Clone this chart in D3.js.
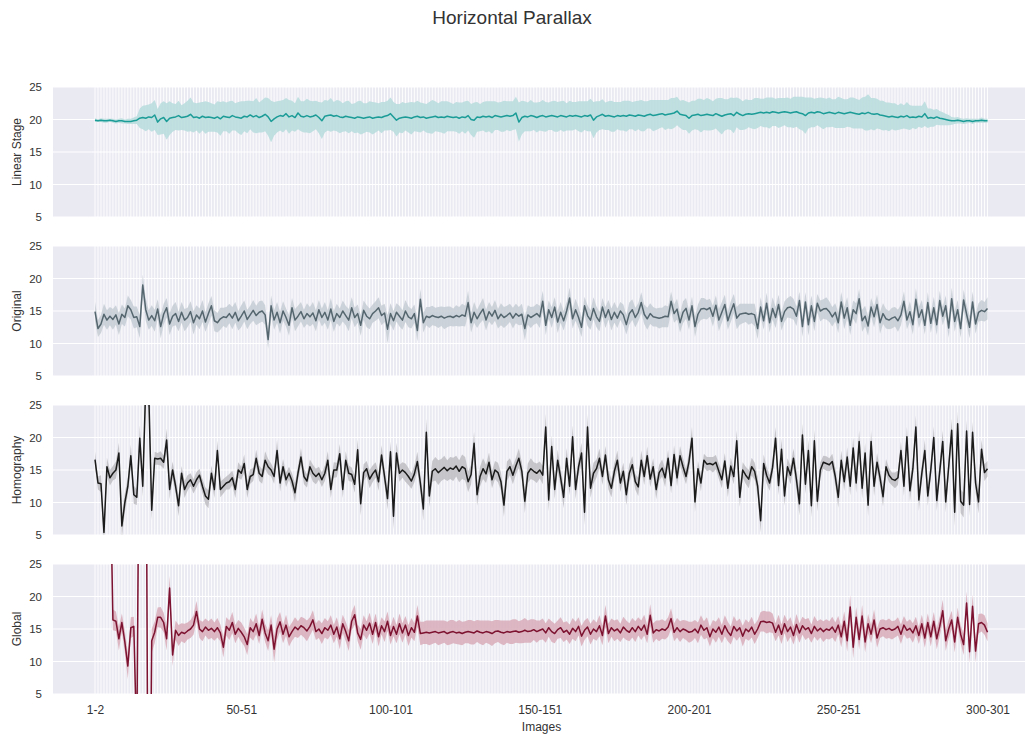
<!DOCTYPE html>
<html>
    <head>
        <meta charset="utf-8">
        <script type="text/javascript" src="https://cdn.jsdelivr.net/npm/d3@7/dist/d3.min.js"></script>
        <style>
            body { margin: 0; background: #fff; }
            text { font-family: "Liberation Sans", Arial, sans-serif; fill: #333; }
        </style>
    </head>
    <body>
        <svg></svg>

        <script>
            // image pairs "1-2" ... "300-301"
            var categories = d3.range(1, 301).map(function(i) { return i + "-" + (i + 1); });
            var tickLabels = ["1-2", "50-51", "100-101", "150-151", "200-201", "250-251", "300-301"];
            var yTicks = [5, 10, 15, 20, 25];
            var panelNames = ["Linear Stage", "Original", "Homography", "Global"];

            var linearStage = [
                19.9,19.8,19.9,19.8,19.8,19.9,19.8,19.7,19.8,19.8,19.7,19.7,19.7,19.8,19.9,20.2,20.3,20.2,20.4,20.3,
                20.7,19.6,20.1,20.3,19.7,20.2,20.3,20.4,20.6,20.3,20.4,20.5,20.8,20.3,20.4,20.2,20.5,20.3,20.4,20.3,
                20.2,20.4,20.1,20.5,20.4,20.3,20.6,20.4,20.3,20.2,20.5,20.4,20.7,20.4,20.6,20.3,20.5,20.8,20.4,19.7,
                20.1,20.4,20.6,20.5,20.9,20.4,20.6,20.3,21.0,20.5,20.4,20.6,20.4,20.5,20.7,20.3,19.8,20.5,20.6,20.7,
                20.5,20.6,20.4,20.3,20.5,20.4,20.3,20.2,20.4,20.3,20.2,20.3,20.4,20.2,20.3,20.4,20.3,20.5,20.6,20.9,
                20.4,19.9,20.2,20.3,20.4,20.3,20.2,20.4,20.5,20.3,20.4,20.2,20.3,20.4,20.5,20.3,20.4,20.3,20.5,20.4,
                20.3,20.4,20.2,20.4,20.3,20.6,20.0,19.9,20.4,20.3,20.5,20.4,20.5,20.3,20.6,20.5,20.4,20.5,20.6,20.5,
                20.6,21.0,19.6,20.3,20.5,20.4,20.6,20.5,20.3,20.5,20.6,20.4,20.5,20.6,20.5,20.4,20.6,20.5,20.4,20.6,
                20.5,20.6,20.5,20.4,20.6,20.5,20.7,19.9,20.4,20.6,20.8,20.5,20.6,20.5,20.4,20.6,20.5,20.6,20.5,20.7,
                20.6,20.5,20.7,20.6,20.5,20.7,20.8,20.6,20.7,20.8,20.9,20.7,20.8,20.9,21.0,21.3,20.8,20.7,20.6,20.2,
                20.6,20.7,20.8,20.6,20.7,20.8,20.7,20.6,20.9,20.7,20.5,20.7,20.8,20.9,20.6,21.1,20.8,20.6,20.8,20.9,
                20.8,20.9,21.0,21.1,21.0,21.1,21.0,21.2,21.1,21.0,21.1,21.2,21.1,21.0,21.1,21.2,21.0,20.9,20.6,21.0,
                21.1,21.0,21.2,21.1,20.9,21.0,21.1,21.0,20.9,21.1,21.0,20.9,21.0,21.1,21.0,20.9,20.8,21.0,20.9,21.1,
                20.9,20.8,20.9,20.7,20.6,20.5,20.4,20.5,20.4,20.3,20.5,20.4,20.6,20.3,20.4,20.3,20.5,20.4,20.9,20.2,
                20.3,20.2,20.4,20.2,20.1,20.0,19.9,19.8,19.8,19.9,19.8,19.7,19.8,19.8,19.7,19.8,19.8,19.9,19.8,19.8
            ];
            var linearStageCi = [
                0.3,0.2,0.3,0.3,0.3,0.2,0.3,0.3,0.3,0.4,0.3,0.4,0.4,0.5,0.6,1.5,1.8,2.0,1.9,2.2,
                2.3,2.0,2.4,2.5,2.8,2.6,2.2,2.0,2.3,1.9,2.1,2.4,2.6,2.3,2.1,2.4,2.2,2.5,2.3,2.2,
                2.1,2.4,2.6,2.3,2.2,2.5,2.3,2.1,2.4,2.6,2.3,2.5,2.2,2.4,2.7,2.3,2.5,2.6,2.9,3.2,
                2.6,2.4,2.3,2.5,2.4,2.6,2.3,2.2,2.5,2.3,2.4,2.6,2.5,2.3,2.2,2.4,2.8,2.5,2.3,2.6,
                2.2,2.4,2.5,2.2,2.3,2.5,2.1,2.3,2.4,2.6,2.3,2.2,2.4,2.5,2.3,2.1,2.4,2.2,2.3,2.5,
                2.3,2.5,2.2,2.4,2.1,2.3,2.5,2.2,2.4,2.3,2.1,2.2,2.4,2.6,2.3,2.2,2.4,2.5,2.3,2.2,
                2.1,2.3,2.4,2.2,2.5,2.3,2.4,2.7,2.3,2.1,2.2,2.4,2.3,2.5,2.2,2.1,2.3,2.4,2.2,2.3,
                2.2,2.5,3.0,2.6,2.3,2.2,2.4,2.1,2.3,2.2,2.4,2.3,2.1,2.2,2.4,2.3,2.2,2.4,2.1,2.3,
                2.2,2.1,2.3,2.4,2.2,2.3,2.5,2.8,2.4,2.2,2.3,2.1,2.2,2.4,2.3,2.1,2.2,2.3,2.4,2.2,
                2.1,2.3,2.2,2.4,2.3,2.1,2.2,2.4,2.3,2.2,2.1,2.3,2.2,2.4,2.3,2.2,2.1,2.3,2.2,2.4,
                2.3,2.2,2.4,2.6,2.3,2.5,2.4,2.2,2.3,2.6,2.8,2.4,2.3,2.5,2.7,2.3,2.4,2.2,2.3,2.1,
                2.2,2.4,2.3,2.1,2.2,2.3,2.4,2.2,2.1,2.3,2.2,2.1,2.3,2.2,2.4,2.3,2.5,2.6,2.8,2.4,
                2.3,2.2,2.1,2.3,2.4,2.2,2.3,2.1,2.2,2.4,2.3,2.2,2.1,2.3,2.4,2.3,2.2,2.4,2.6,2.8,
                2.4,2.5,2.3,2.2,2.3,2.1,2.2,2.0,2.1,1.9,2.0,1.8,2.1,1.9,1.7,1.8,1.6,1.7,1.9,1.5,
                1.4,1.3,1.2,1.1,1.0,0.9,0.8,0.6,0.5,0.5,0.4,0.4,0.4,0.3,0.4,0.3,0.3,0.4,0.3,0.3
            ];

            var original = [
                14.9,12.3,13.0,14.5,13.6,14.2,13.7,14.4,13.0,14.5,14.0,15.8,15.2,14.0,14.1,12.6,19.0,15.2,13.6,14.3,
                13.5,15.3,12.6,14.5,15.5,13.0,14.2,14.6,13.4,14.8,13.6,14.0,14.9,13.2,14.4,13.8,15.0,13.3,14.6,15.8,
                13.5,13.2,13.8,14.1,14.0,14.6,13.9,14.8,13.5,14.2,15.0,13.7,14.4,15.1,14.3,14.8,15.0,14.4,10.6,15.8,
                13.6,14.8,13.2,15.0,14.0,12.8,15.5,13.6,14.2,14.9,13.8,14.6,14.1,14.7,13.5,15.2,14.0,14.8,13.6,15.3,
                13.4,14.6,14.0,15.0,14.3,13.6,15.5,14.0,14.6,12.8,15.1,14.2,13.8,14.6,15.0,15.5,14.3,14.7,12.2,14.6,
                13.5,14.8,14.2,13.6,15.0,14.1,13.8,14.6,12.0,16.8,13.2,14.2,14.0,14.3,14.1,14.0,14.2,13.9,14.1,14.2,
                14.0,14.3,14.1,14.4,14.2,16.3,13.2,14.8,13.8,14.6,15.3,13.6,14.9,14.2,15.1,13.8,14.5,14.0,14.3,14.7,
                13.9,14.6,14.2,14.5,12.3,14.4,14.0,14.3,14.6,14.1,16.5,12.8,15.2,14.0,15.6,13.3,14.8,13.5,15.0,17.0,
                13.8,15.2,14.0,12.5,15.8,14.3,13.6,15.4,14.1,13.4,15.6,14.0,15.2,13.7,14.8,13.9,15.0,14.4,12.9,14.6,
                15.2,14.0,14.8,16.3,14.5,13.8,14.6,14.1,14.0,13.9,14.0,14.2,14.1,16.5,14.6,15.3,13.2,14.8,15.4,13.6,
                15.8,12.6,14.5,15.3,15.4,15.2,15.5,14.2,15.9,13.6,14.8,16.0,13.5,14.9,16.1,13.9,14.5,14.6,14.7,14.5,
                14.6,14.4,12.3,15.6,13.5,16.2,13.2,15.4,14.0,16.0,13.4,14.9,15.5,15.6,15.3,14.2,16.6,12.6,16.4,12.9,
                15.8,13.4,16.2,15.0,15.3,15.4,14.9,14.1,14.8,13.2,16.4,13.9,15.5,12.8,15.2,14.6,16.9,13.5,14.2,12.7,
                15.6,14.1,16.0,13.2,14.6,13.8,13.6,13.9,14.1,13.5,14.4,16.5,13.6,14.9,12.9,16.8,14.0,15.2,12.8,16.3,
                13.1,15.5,12.9,16.6,14.2,15.8,12.4,16.9,13.4,15.2,12.3,16.7,14.5,12.5,16.4,13.0,14.8,15.1,14.9,15.4
            ];
            var originalCi = [
                1.5,1.3,1.4,1.6,1.5,1.4,1.6,1.5,1.7,1.5,1.4,1.6,1.5,1.7,1.6,1.8,1.6,1.7,1.5,1.6,
                1.7,1.5,1.8,1.6,1.5,1.7,1.6,1.8,1.5,1.6,1.7,1.5,1.6,1.8,1.5,1.6,1.7,1.5,1.6,1.5,
                1.6,1.5,1.7,1.4,1.6,1.5,1.7,1.6,1.5,1.7,1.6,1.5,1.4,1.6,1.5,1.7,1.6,1.5,1.4,1.6,
                1.5,1.6,1.7,1.5,1.4,1.6,1.5,1.7,1.6,1.5,1.4,1.6,1.5,1.7,1.6,1.5,1.4,1.6,1.5,1.7,
                1.6,1.5,1.4,1.6,1.5,1.7,1.6,1.5,1.4,1.6,1.5,1.7,1.6,1.4,1.5,1.6,1.5,1.4,2.2,1.6,
                1.5,1.4,1.6,1.5,1.7,1.6,1.5,1.4,1.7,1.6,1.5,1.4,1.6,1.5,1.4,1.6,1.5,1.7,1.6,1.5,
                1.4,1.6,1.5,1.7,1.6,1.8,1.5,1.6,1.4,1.5,1.7,1.6,1.5,1.4,1.6,1.5,1.7,1.6,1.5,1.4,
                1.6,1.5,1.4,1.6,1.8,1.5,1.6,1.4,1.5,1.7,1.6,1.5,1.4,1.6,1.5,1.7,1.6,1.5,1.4,1.6,
                1.5,1.7,1.6,1.5,1.4,1.6,1.5,1.7,1.6,1.5,1.4,1.6,1.5,1.7,1.6,1.5,1.4,1.6,1.5,1.7,
                1.6,1.5,1.4,1.6,1.5,1.7,1.6,1.5,1.4,1.6,1.5,1.7,1.6,1.5,1.4,1.6,1.5,1.7,1.6,1.5,
                1.4,1.6,1.5,1.7,1.6,1.5,1.4,1.6,1.5,1.7,1.6,1.5,1.4,1.6,1.5,1.7,1.6,1.5,1.4,1.6,
                1.5,1.7,1.6,1.5,1.4,1.6,1.5,1.7,1.6,1.5,1.4,1.6,1.5,1.7,1.6,1.5,1.4,1.6,1.5,1.7,
                1.6,1.5,1.4,1.6,1.5,1.7,1.6,1.5,1.4,1.6,1.5,1.7,1.6,1.5,1.4,1.6,1.5,1.7,1.6,1.5,
                1.4,1.6,1.5,1.7,1.6,1.5,1.4,1.6,1.5,1.7,1.6,1.5,1.4,1.6,1.5,1.7,1.6,1.5,1.4,1.6,
                1.5,1.7,1.6,1.5,1.4,1.6,1.5,1.7,1.6,1.5,1.4,1.6,1.5,1.7,1.6,1.5,1.4,1.6,1.5,1.7
            ];

            var homography = [
                16.6,13.0,12.9,5.4,15.5,13.8,14.5,15.0,17.6,6.4,10.0,12.5,17.2,11.2,10.8,19.9,12.5,28.0,27.0,8.8,
                16.8,16.7,16.8,16.2,19.6,12.0,15.0,12.5,9.5,14.5,12.0,13.0,13.5,12.5,13.5,14.2,12.5,11.0,10.5,14.5,
                12.0,18.0,12.0,12.5,13.0,13.2,13.8,12.0,15.0,14.5,16.0,12.0,14.0,14.3,16.8,14.5,14.0,16.5,15.5,15.0,
                14.0,18.0,13.0,15.5,13.5,14.5,13.3,11.5,14.5,17.0,14.0,13.3,15.5,14.5,14.0,14.5,13.5,14.5,16.5,12.0,
                15.0,15.0,17.5,12.0,16.5,14.5,14.3,12.8,18.1,9.8,14.6,15.2,13.6,14.4,15.0,13.2,17.3,14.0,10.6,17.8,
                7.9,17.6,14.5,15.0,14.6,14.0,13.3,14.4,16.3,13.0,9.0,20.8,11.0,14.8,15.2,14.6,15.0,15.4,14.9,15.3,
                15.1,15.6,14.8,15.5,15.2,13.2,14.3,19.1,11.2,14.0,15.2,14.4,16.2,13.5,15.0,14.6,13.2,9.6,14.8,15.5,
                14.2,15.6,16.8,14.8,10.2,14.5,15.2,14.8,14.5,15.0,14.2,21.6,10.4,18.6,12.0,16.5,13.8,10.8,16.8,12.5,
                20.1,12.0,15.5,17.6,8.5,21.6,12.2,14.5,15.2,16.8,14.0,17.3,13.5,12.2,14.8,16.5,13.0,14.8,11.2,14.5,
                15.8,13.2,12.4,16.5,14.0,17.2,13.6,15.5,12.0,14.6,15.3,13.8,16.8,12.6,17.4,13.8,17.2,15.5,14.0,16.3,
                19.9,10.1,15.2,13.0,16.5,15.9,16.0,15.8,16.2,14.8,13.5,16.4,12.2,15.6,14.0,19.5,10.8,15.0,14.2,13.6,
                15.5,14.8,12.5,7.2,16.0,14.2,13.0,15.4,19.9,12.6,18.2,11.0,15.5,14.2,16.8,13.5,9.8,20.4,12.8,18.0,
                9.5,19.5,10.2,15.0,16.2,16.0,15.8,16.3,14.0,10.8,16.5,13.2,17.0,12.5,18.4,13.0,19.4,12.2,17.6,9.6,
                19.4,12.5,16.2,13.8,10.9,15.5,14.2,13.6,13.4,13.8,18.0,12.5,20.1,11.8,15.2,21.6,10.4,14.5,18.0,11.0,
                15.0,20.0,10.3,14.8,19.4,10.1,15.5,21.1,8.5,22.1,10.2,9.6,21.0,9.7,20.8,13.0,10.1,18.2,14.6,15.2
            ];
            var homographyCi = [
                1.2,1.0,1.3,1.5,1.4,1.2,1.1,1.3,1.6,1.8,1.5,1.3,1.7,1.4,1.2,2.0,1.6,2.5,2.4,1.5,
                1.0,0.9,1.1,1.0,1.8,1.5,1.3,1.2,1.6,1.1,1.3,1.2,1.0,1.1,1.2,1.0,1.1,1.3,1.4,1.2,
                1.3,1.5,1.2,1.1,1.0,1.2,1.1,1.3,1.2,1.0,1.4,1.3,1.1,1.0,1.3,1.2,1.1,1.4,1.2,1.0,
                1.1,1.6,1.3,1.2,1.1,1.0,1.2,1.5,1.1,1.4,1.2,1.0,1.1,1.3,1.2,1.0,1.1,1.2,1.4,1.3,
                1.2,1.1,1.5,1.3,1.4,1.2,1.1,1.3,1.6,1.8,1.3,1.2,1.4,1.3,1.2,1.4,1.5,1.3,1.7,1.6,
                2.0,1.6,1.3,1.2,1.4,1.3,1.2,1.3,1.5,1.4,1.8,2.1,1.7,1.6,1.8,1.9,1.7,1.8,1.6,1.7,
                1.8,1.6,1.7,1.9,1.8,1.6,1.5,1.8,1.7,1.5,1.6,1.4,1.5,1.3,1.4,1.5,1.4,1.8,1.5,1.3,
                1.4,1.3,1.5,1.4,1.8,1.5,1.6,1.4,1.5,1.3,1.4,2.0,1.8,1.7,1.5,1.6,1.4,1.7,1.6,1.4,
                1.8,1.5,1.3,1.6,2.0,1.9,1.5,1.6,1.4,1.5,1.3,1.4,1.5,1.4,1.3,1.5,1.4,1.3,1.6,1.4,
                1.3,1.2,1.4,1.5,1.3,1.4,1.2,1.3,1.5,1.2,1.3,1.4,1.3,1.2,1.4,1.3,1.5,1.3,1.2,1.4,
                1.7,1.6,1.2,1.3,1.0,1.1,1.0,1.2,1.1,1.2,1.3,1.2,1.4,1.3,1.2,1.6,1.5,1.2,1.3,1.4,
                1.4,1.3,1.5,1.8,1.4,1.3,1.2,1.4,1.7,1.5,1.6,1.5,1.3,1.4,1.5,1.6,1.8,1.7,1.5,1.6,
                1.8,1.7,1.6,1.2,1.0,1.1,1.0,1.2,1.4,1.6,1.5,1.4,1.5,1.4,1.6,1.5,1.7,1.6,1.5,1.7,
                1.6,1.5,1.4,1.3,1.5,1.2,1.1,1.0,1.2,1.1,1.4,1.5,1.6,1.7,1.5,1.8,1.7,1.4,1.6,1.5,
                1.4,1.7,1.6,1.5,1.7,1.6,1.4,1.8,2.2,1.9,1.8,1.9,1.7,1.8,1.6,1.5,1.8,1.5,1.3,1.2
            ];

            var global = [
                60,60,60,60,55,42,16.4,16.2,13.5,16.0,13.0,9.3,15.2,15.4,-3,60,60,60,-40,13.2,
                14.5,16.8,16.8,16.0,13.5,21.3,11.0,14.8,14.0,14.5,14.3,14.7,15.0,15.6,17.7,15.0,14.6,15.3,14.8,15.1,
                14.6,15.2,14.4,12.2,15.4,14.8,16.0,14.2,15.1,14.5,13.8,12.6,15.2,14.6,15.8,14.0,16.5,14.4,13.2,15.6,
                11.9,15.0,16.1,14.2,15.6,13.8,14.6,15.3,14.9,15.5,15.2,14.7,15.4,16.4,14.6,15.0,14.3,15.2,14.8,15.6,
                14.2,15.3,13.5,15.8,14.6,13.2,16.2,17.2,14.4,13.4,15.6,14.8,15.9,14.2,16.0,13.8,15.5,14.6,16.2,14.0,
                15.4,14.2,15.8,14.4,15.6,14.0,15.2,14.5,17.0,14.3,14.4,14.5,14.4,14.5,14.6,14.4,14.5,14.6,14.3,14.5,
                14.6,14.4,14.5,14.3,14.5,14.6,14.5,14.4,14.7,14.5,14.4,14.6,14.5,14.3,14.6,14.7,14.5,14.4,14.6,14.5,
                14.6,14.7,14.5,14.6,14.8,14.6,14.7,14.9,14.6,14.8,15.0,14.4,15.2,14.6,14.3,14.9,15.2,14.5,14.8,14.2,
                15.1,14.6,15.4,13.9,14.8,15.3,14.2,15.0,14.6,15.5,14.0,17.0,14.3,15.2,14.7,15.0,14.4,15.3,14.8,14.5,
                15.2,14.6,15.4,14.8,15.6,14.2,17.1,14.4,14.9,14.7,15.0,14.8,15.3,16.6,14.5,15.2,14.6,15.0,14.8,14.5,
                14.6,15.0,14.4,15.6,14.8,15.2,13.8,15.0,14.5,15.3,14.2,15.5,14.6,14.0,15.4,14.7,15.2,13.9,15.0,14.6,
                15.3,14.2,15.0,16.1,16.2,16.0,16.1,15.9,14.5,15.6,14.2,15.8,14.6,15.3,14.0,15.7,14.4,15.5,14.9,15.2,
                14.3,15.4,14.7,15.1,14.6,15.0,14.8,15.3,14.5,15.6,13.8,16.2,13.2,18.4,12.2,16.8,13.4,17.0,13.0,15.8,
                14.2,16.4,13.6,15.0,15.2,14.9,15.1,14.8,15.0,15.4,14.2,15.6,14.8,15.1,14.4,15.5,14.0,15.8,13.6,16.0,
                13.8,16.2,13.5,15.4,17.8,13.2,15.0,16.4,13.0,16.8,14.2,12.6,19.0,11.5,18.5,11.6,15.8,16.0,15.6,14.5
            ];
            var globalCi = [
                2.0,2.0,2.0,2.0,2.0,2.0,1.6,1.5,1.8,1.4,1.7,2.0,1.6,1.5,3.0,3.0,3.0,3.0,3.0,1.8,
                1.7,1.5,1.6,1.5,1.8,1.9,1.7,1.5,1.6,1.4,1.5,1.3,1.4,1.5,1.6,1.4,1.5,1.3,1.4,1.5,
                1.4,1.5,1.3,1.6,1.4,1.5,1.6,1.4,1.3,1.5,1.4,1.6,1.5,1.4,1.6,1.3,1.5,1.4,1.6,1.5,
                2.0,1.6,1.5,1.4,1.6,1.5,1.4,1.5,1.3,1.4,1.5,1.6,1.4,1.5,1.3,1.4,1.6,1.5,1.4,1.5,
                1.4,1.5,1.6,1.4,1.5,1.6,1.4,1.5,1.3,1.6,1.5,1.4,1.6,1.5,1.4,1.5,1.3,1.6,1.5,1.4,
                1.5,1.4,1.6,1.5,1.4,1.6,1.5,1.4,1.7,1.8,1.7,1.8,1.9,1.8,1.7,1.9,1.8,1.7,1.8,1.9,
                1.8,1.7,1.9,1.8,1.7,1.8,1.9,1.8,1.7,1.8,1.9,1.7,1.8,1.9,1.8,1.7,1.8,1.9,1.7,1.8,
                1.9,1.8,1.7,1.8,1.9,1.7,1.8,1.6,1.7,1.5,1.6,1.5,1.4,1.6,1.5,1.4,1.6,1.5,1.4,1.5,
                1.6,1.5,1.4,1.6,1.5,1.4,1.6,1.5,1.4,1.6,1.5,1.7,1.5,1.4,1.6,1.5,1.4,1.6,1.5,1.4,
                1.5,1.6,1.4,1.5,1.6,1.4,1.7,1.5,1.4,1.6,1.5,1.4,1.5,1.6,1.4,1.5,1.6,1.4,1.5,1.6,
                1.5,1.4,1.6,1.5,1.4,1.6,1.5,1.4,1.6,1.5,1.4,1.6,1.5,1.4,1.6,1.5,1.4,1.6,1.5,1.4,
                1.6,1.5,1.4,1.5,1.6,1.7,1.6,1.5,1.4,1.6,1.5,1.4,1.6,1.5,1.4,1.6,1.5,1.4,1.6,1.5,
                1.4,1.6,1.5,1.4,1.6,1.5,1.4,1.6,1.5,1.4,1.6,1.5,1.7,1.8,1.7,1.6,1.5,1.7,1.6,1.5,
                1.4,1.6,1.5,1.4,1.3,1.4,1.5,1.4,1.3,1.4,1.5,1.4,1.3,1.4,1.5,1.4,1.3,1.4,1.5,1.4,
                1.5,1.4,1.6,1.5,1.7,1.6,1.5,1.4,1.6,1.5,1.4,1.6,1.8,1.7,1.8,1.7,1.5,1.4,1.5,1.4
            ];

            var means = [linearStage, original, homography, global];
            var cis = [linearStageCi, originalCi, homographyCi, globalCi];
            var lineColors = ["#1c9c97", "#55666f", "#1b1b1b", "#7c1230"];
            var bandColors = ["#b6dcdc", "#c6ccd3", "#bdbdc2", "#d8acb8"];

            var w = 1025, h = 735;
            var left = 53, right = 1030;
            var panelTop = 87, panelH = 130, panelStep = 159;

            var svg = d3.select("svg")
                    .attr("width", w)
                    .attr("height", h);

            var x = d3.scalePoint()
                    .domain(categories)
                    .range([95, 987.5]);

            svg.append("text")
                    .attr("x", 512)
                    .attr("y", 24)
                    .attr("text-anchor", "middle")
                    .style("font-size", "19px")
                    .text("Horizontal Parallax");

            panelNames.forEach(function(name, k) {
                var top = panelTop + k * panelStep;
                var y = d3.scaleLinear().domain([5, 25]).range([top + panelH, top]);
                var g = svg.append("g");

                g.append("clipPath").attr("id", "clip" + k)
                        .append("rect")
                        .attr("x", left).attr("y", top)
                        .attr("width", right - left).attr("height", panelH);

                g.append("rect")
                        .attr("x", left).attr("y", top)
                        .attr("width", right - left).attr("height", panelH)
                        .attr("fill", "#eaeaf2");

                // one white gridline per image pair
                g.append("g").selectAll("line")
                        .data(categories)
                        .enter().append("line")
                        .attr("x1", function(d) { return x(d); })
                        .attr("x2", function(d) { return x(d); })
                        .attr("y1", top).attr("y2", top + panelH)
                        .attr("stroke", "#fff")
                        .attr("stroke-width", 0.9);

                g.append("g").selectAll("line")
                        .data(yTicks)
                        .enter().append("line")
                        .attr("x1", left).attr("x2", right)
                        .attr("y1", function(d) { return y(d); })
                        .attr("y2", function(d) { return y(d); })
                        .attr("stroke", "#fff")
                        .attr("stroke-width", 1.2);

                var yAxis = d3.axisLeft(y).tickValues(yTicks).tickSize(0).tickPadding(0);
                var ax = g.append("g")
                        .attr("transform", "translate(" + 42 + ",0)")
                        .call(yAxis);
                ax.select(".domain").remove();
                ax.selectAll("text")
                        .style("font-size", "11.5px")
                        .style("font-family", "'Liberation Sans', Arial, sans-serif")
                        .attr("fill", "#333");

                g.append("text")
                        .attr("transform", "translate(17," + (top + panelH / 2) + ") rotate(-90)")
                        .attr("text-anchor", "middle")
                        .attr("dy", "0.35em")
                        .style("font-size", "12px")
                        .text(name);

                var vals = means[k], ci = cis[k];
                var idx = d3.range(categories.length).filter(function(i) { return vals[i] != null; });

                var area = d3.area()
                        .x(function(i) { return x(categories[i]); })
                        .y0(function(i) { return y(vals[i] - ci[i]); })
                        .y1(function(i) { return y(vals[i] + ci[i]); });

                var line = d3.line()
                        .x(function(i) { return x(categories[i]); })
                        .y(function(i) { return y(vals[i]); });

                var plot = g.append("g").attr("clip-path", "url(#clip" + k + ")");
                plot.append("path")
                        .datum(idx)
                        .attr("d", area)
                        .attr("fill", bandColors[k])
                        .attr("fill-opacity", 0.85);
                plot.append("path")
                        .datum(idx)
                        .attr("d", line)
                        .attr("fill", "none")
                        .attr("stroke", lineColors[k])
                        .attr("stroke-width", 1.5)
                        .attr("stroke-linejoin", "round");
            });

            // x axis only under the bottom panel
            var bottom = panelTop + 3 * panelStep + panelH;
            var xAxis = d3.axisBottom(x).tickValues(tickLabels).tickSize(0).tickPadding(11);
            var xa = svg.append("g")
                    .attr("transform", "translate(0," + bottom + ")")
                    .call(xAxis);
            xa.select(".domain").remove();
            xa.selectAll("text")
                    .style("font-size", "12px")
                    .style("font-family", "'Liberation Sans', Arial, sans-serif")
                    .attr("fill", "#333");

            svg.append("text")
                    .attr("x", (left + right) / 2)
                    .attr("y", 731)
                    .attr("text-anchor", "middle")
                    .style("font-size", "12px")
                    .text("Images");
        </script>
    </body>
</html>
